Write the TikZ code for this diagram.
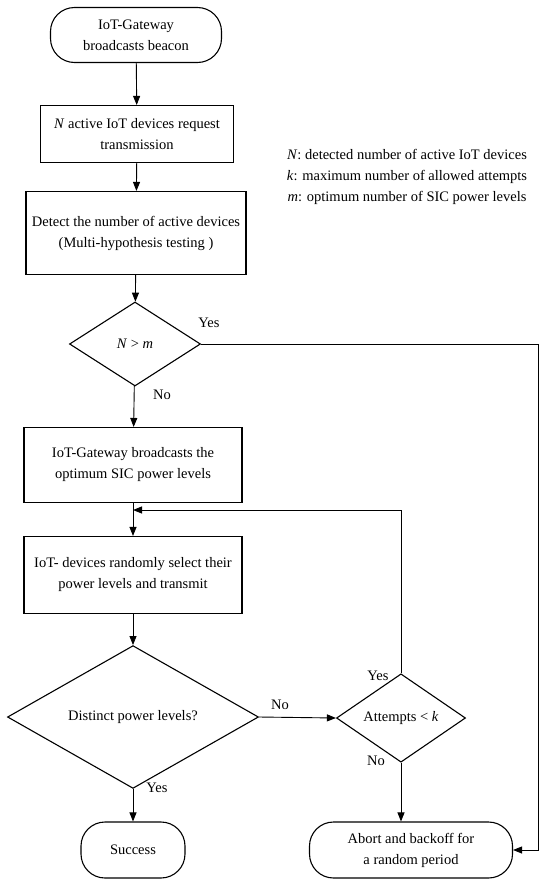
\documentclass[tikz,border=0pt]{standalone}
\usepackage{fontspec}
\setmainfont{Liberation Serif}
\usetikzlibrary{shapes.geometric,arrows.meta}

\begin{document}
\begin{tikzpicture}[x=1pt, y=-1pt, every node/.style={font=\fontsize{14.5}{21}\selectfont}, >={Triangle[length=9pt, width=7pt]}, line width=0.9pt,
	box/.style={draw, line width=1.1pt, align=center, inner sep=2pt},
	term/.style={draw, line width=1.1pt, align=center, rounded corners=24pt, inner sep=2pt},
	decide/.style={draw, line width=1.1pt, diamond, align=center, inner sep=0pt},
	lbl/.style={inner sep=1pt}]
	\useasboundingbox (0,0) rectangle (539,889);
	% main column
	\node[term, minimum width=171pt, minimum height=55pt] (start) at (136,35) {IoT-Gateway\\broadcasts beacon};
	\node[box, minimum width=193pt, minimum height=57pt] (request) at (137,134) {\textit{N} active IoT devices request\\transmission};
	\node[box, minimum width=220pt, minimum height=83pt] (detect) at (136,233) {Detect the number of active devices\\(Multi-hypothesis testing )};
	\node[decide, minimum width=131pt, minimum height=84pt] (check) at (135,344) {\textit{N} > \textit{m}};
	\node[box, minimum width=218pt, minimum height=75pt] (broadcast) at (133,465) {IoT-Gateway broadcasts the\\optimum SIC power levels};
	\node[box, minimum width=218pt, minimum height=77pt] (select) at (133,575) {IoT- devices randomly select their\\power levels and transmit};
	\node[decide, minimum width=251pt, minimum height=97pt] (distinct) at (133,717) {Distinct power levels?};
	\node[term, minimum width=104pt, minimum height=56pt] (success) at (133,850) {Success};
	% right column
	\node[decide, minimum width=129pt, minimum height=54pt] (attempts) at (401,718) {Attempts < \textit{k}};
	\node[term, minimum width=203pt, minimum height=56pt] (abort) at (411,850) {Abort and backoff for\\a random period};
	\node[align=center] (legend) at (407,177) {\textit{N}: detected number of active IoT devices\\\textit{k}: maximum number of allowed attempts\\\textit{m}: optimum number of SIC power levels};
	\coordinate (join) at (133,510);
	\coordinate (rim) at (538,850);
	% connectors
	\draw[->] (start) -- (request);
	\draw[->] (request) -- (detect);
	\draw[->] (detect) -- (check);
	\draw[->] (check) -- (broadcast);
	\draw[->] (broadcast) -- (select);
	\draw[->] (select) -- (distinct);
	\draw[->] (distinct) -- (success);
	\draw[->] (distinct.east) -- (attempts.west);
	\draw[->] (attempts.south) -- (attempts.south |- abort.north);
	\draw[->] (attempts.north) |- (join);
	\draw[->] (check.east) -| (rim) |- (abort.east);
	% labels
	\node[lbl] (yes1) at (209,323) {Yes};
	\node[lbl] (no1) at (162,395) {No};
	\node[lbl] (no2) at (280,705) {No};
	\node[lbl] (yes2) at (378,676) {Yes};
	\node[lbl] (no3) at (376,761) {No};
	\node[lbl] (yes3) at (157,788) {Yes};
\end{tikzpicture}
\end{document}
